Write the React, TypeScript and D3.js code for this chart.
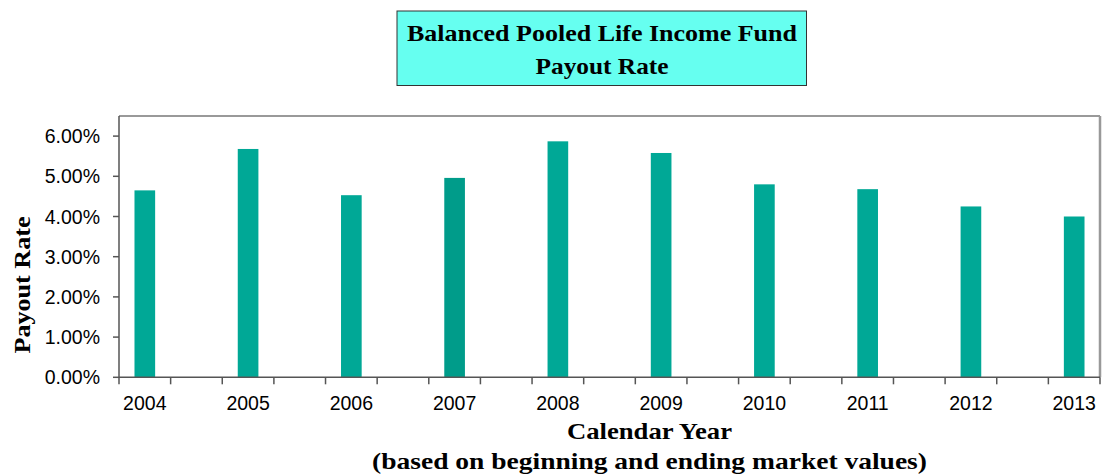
import React from "react";
import * as d3 from "d3";

const years = ["2004", "2005", "2006", "2007", "2008", "2009", "2010", "2011", "2012", "2013"];
const payoutRates = [4.65, 5.68, 4.53, 4.96, 5.87, 5.58, 4.8, 4.68, 4.25, 4.0];
const barColors = ["#00A896", "#00A896", "#00A896", "#009C8A", "#00A896", "#00A896", "#00A896", "#00A896", "#00A896", "#00A896"];
const yTicks = [0, 1, 2, 3, 4, 5, 6];
const titleLines = ["Balanced Pooled Life Income Fund", "Payout Rate"];
const xTitle = "Calendar Year";
const xSubtitle = "(based on beginning and ending market values)";
const yTitle = "Payout Rate";

const W = 1102;
const H = 476;
const left = 119;
const right = 1100;
const top = 116;
const bottom = 377.3;
const slotCount = years.length * 2 - 1;

export default function App() {
  const x = d3.scaleBand<number>().domain(d3.range(slotCount)).range([left, right]).paddingInner(0).paddingOuter(0);
  const y = d3.scaleLinear().domain([0, 6.5]).range([bottom, top]);
  const bw = x.bandwidth() * 0.4;
  const serif = "'Liberation Serif', 'Times New Roman', serif";
  const sans = "'Liberation Sans', Arial, sans-serif";
  const boundaries = d3.range(slotCount + 1).map((i) => left + i * x.bandwidth());

  return (
    <svg width={W} height={H} style={{ position: "absolute", left: 0, top: 0, background: "#fff" }}>
      {/* title box */}
      <rect x={397} y={11} width={409.5} height={74.5} fill="#66FFF0" stroke="#333" strokeWidth={1} />
      <text x={602} y={41} textAnchor="middle" fontFamily={serif} fontWeight="bold" fontSize={24} textLength={390} lengthAdjust="spacingAndGlyphs" fill="#000">
        {titleLines[0]}
      </text>
      <text x={602} y={74} textAnchor="middle" fontFamily={serif} fontWeight="bold" fontSize={24} textLength={133} lengthAdjust="spacingAndGlyphs" fill="#000">
        {titleLines[1]}
      </text>

      {/* plot frame top/right */}
      <line x1={left} x2={right} y1={top} y2={top} stroke="#999" strokeWidth={2} />
      <line x1={right} x2={right} y1={top} y2={bottom} stroke="#999" strokeWidth={2.5} />

      {/* bars */}
      {payoutRates.map((v, i) => {
        const cx = (x(i * 2) as number) + x.bandwidth() / 2;
        return (
          <rect key={years[i]} x={cx - bw / 2} y={y(v)} width={bw} height={bottom - y(v)} fill={barColors[i]} />
        );
      })}

      {/* y axis */}
      <line x1={left} x2={left} y1={top} y2={bottom} stroke="#555" strokeWidth={1.5} />
      {yTicks.map((t) => (
        <g key={t}>
          <line x1={left - 6} x2={left} y1={y(t)} y2={y(t)} stroke="#555" strokeWidth={1.5} />
          <text x={100} y={y(t)} dy="0.36em" textAnchor="end" fontFamily={sans} fontSize={19.5} fill="#000">
            {d3.format(".2f")(t) + "%"}
          </text>
        </g>
      ))}

      {/* x axis */}
      <line x1={left} x2={right} y1={bottom} y2={bottom} stroke="#555" strokeWidth={1.5} />
      {boundaries.map((bx, i) => (
        <line key={i} x1={bx} x2={bx} y1={bottom} y2={bottom + 7} stroke="#555" strokeWidth={1.5} />
      ))}
      {years.map((yr, i) => (
        <text key={yr} x={(x(i * 2) as number) + x.bandwidth() / 2} y={410} textAnchor="middle" fontFamily={sans} fontSize={19.5} fill="#000">
          {yr}
        </text>
      ))}

      {/* axis titles */}
      <text x={649.5} y={439} textAnchor="middle" fontFamily={serif} fontWeight="bold" fontSize={24} textLength={165} lengthAdjust="spacingAndGlyphs" fill="#000">
        {xTitle}
      </text>
      <text x={649.5} y={469} textAnchor="middle" fontFamily={serif} fontWeight="bold" fontSize={24} textLength={555} lengthAdjust="spacingAndGlyphs" fill="#000">
        {xSubtitle}
      </text>
      <text transform="translate(30,285) rotate(-90)" textAnchor="middle" fontFamily={serif} fontWeight="bold" fontSize={24} textLength={137} lengthAdjust="spacingAndGlyphs" fill="#000">
        {yTitle}
      </text>
    </svg>
  );
}
